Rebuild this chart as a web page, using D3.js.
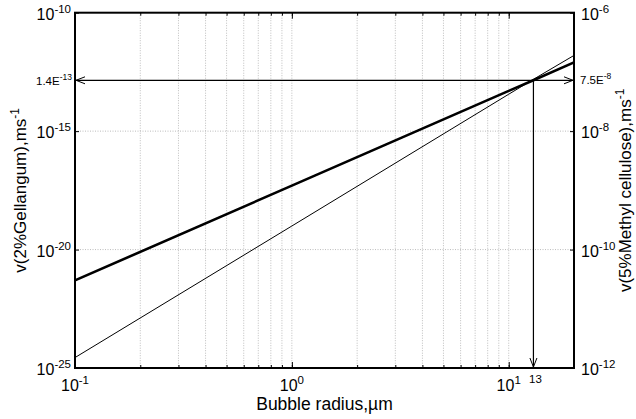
<!DOCTYPE html>
<html><head><meta charset="utf-8">
<script src="https://cdn.jsdelivr.net/npm/d3@7"></script>
<style>
html,body{margin:0;padding:0;background:#fff;}
svg{display:block;font-family:"Liberation Sans",Arial,sans-serif;}
</style></head>
<body><svg id="c" width="636" height="419"></svg>
<script>
// ---- data ----
const radius = [0.1, 1, 10, 13, 20];                       // bubble radius, µm
const gellan = [5e-22, 5e-18, 5e-14, 1.4e-13, 8e-13];      // v(2% Gellan gum), left axis
const methyl = [1.5e-12, 2.5e-10, 4.2e-8, 7.5e-8, 1.9e-7]; // v(5% Methyl cellulose), right axis
const xTicks = [0.1, 1, 10];
const xTickExp = ["-1", "0", "1"];
const yLeftTicks = [1e-10, 1e-15, 1e-20, 1e-25];
const yLeftExp = ["-10", "-15", "-20", "-25"];
const yRightTicks = [1e-6, 1e-8, 1e-10, 1e-12];
const yRightExp = ["-6", "-8", "-10", "-12"];
const markR = 13, markG = 1.4e-13, markM = 7.5e-8;
const markGLabel = ["1.4E", "-13"], markMLabel = ["7.5E", "-8"];

const svg = d3.select("#c");
const L = 75, R = 574, T = 12.7, B = 368;
const x = d3.scaleLog().domain([0.1, 20]).range([L, R]);
const yL = d3.scaleLog().domain([1e-25, 1e-10]).range([B, T]);
const yR = d3.scaleLog().domain([1e-12, 1e-6]).range([B, T]);

// grid
const gridX = x.ticks().filter(v => v > 0.1 * 1.001 && v < 20 * 0.999);
svg.append("g").selectAll("line").data(gridX).join("line")
  .attr("x1", d => x(d)).attr("x2", d => x(d)).attr("y1", T).attr("y2", B)
  .attr("stroke", "#bdbdbd").attr("stroke-width", 1).attr("stroke-dasharray", "1,1.5");
svg.append("g").selectAll("line").data(yLeftTicks.slice(1, -1)).join("line")
  .attr("x1", L).attr("x2", R).attr("y1", d => yL(d)).attr("y2", d => yL(d))
  .attr("stroke", "#bdbdbd").attr("stroke-width", 1).attr("stroke-dasharray", "1,1.5");

// axes (ticks inside)
const minorX = x.ticks();
svg.append("g").attr("transform", `translate(0,${B})`)
  .call(d3.axisBottom(x).tickValues(minorX).tickSize(-3).tickFormat(""))
  .call(g => g.select(".domain").remove());
svg.append("g").attr("transform", `translate(0,${B})`)
  .call(d3.axisBottom(x).tickValues(xTicks).tickSize(-6).tickFormat(""))
  .call(g => g.select(".domain").remove());
svg.append("g").attr("transform", `translate(0,${T})`)
  .call(d3.axisTop(x).tickValues(minorX).tickSize(-3).tickFormat(""))
  .call(g => g.select(".domain").remove());
svg.append("g").attr("transform", `translate(0,${T})`)
  .call(d3.axisTop(x).tickValues(xTicks).tickSize(-6).tickFormat(""))
  .call(g => g.select(".domain").remove());
svg.append("g").attr("transform", `translate(${L},0)`)
  .call(d3.axisLeft(yL).tickValues(yLeftTicks).tickSize(-4).tickFormat(""))
  .call(g => g.select(".domain").remove());
svg.append("g").attr("transform", `translate(${R},0)`)
  .call(d3.axisRight(yR).tickValues(yRightTicks).tickSize(-4).tickFormat(""))
  .call(g => g.select(".domain").remove());

svg.append("rect").attr("x", L).attr("y", T).attr("width", R - L).attr("height", B - T)
  .attr("fill", "none").attr("stroke", "#000").attr("stroke-width", 2);

// tick labels
function pow(sel, exp, big, small, up) {
  sel.append("tspan").text("10").attr("font-size", big);
  sel.append("tspan").text(exp).attr("font-size", small).attr("dy", -up);
}
svg.append("g").selectAll("text").data(xTicks).join("text")
  .attr("x", d => x(d)).attr("y", 391).attr("text-anchor", "middle")
  .each(function (d, i) { pow(d3.select(this), xTickExp[i], 16, 11.5, 7); });
svg.append("g").selectAll("text").data(yLeftTicks).join("text")
  .attr("x", 71).attr("y", d => yL(d) + 7).attr("text-anchor", "end")
  .each(function (d, i) { pow(d3.select(this), yLeftExp[i], 16, 11.5, 7); });
svg.append("g").selectAll("text").data(yRightTicks).join("text")
  .attr("x", 581).attr("y", d => yR(d) + 7).attr("text-anchor", "start")
  .each(function (d, i) { pow(d3.select(this), yRightExp[i], 16, 11.5, 7); });

// axis titles
svg.append("text").attr("x", (L + R) / 2).attr("y", 410).attr("text-anchor", "middle")
  .attr("font-size", 17.5).text("Bubble radius,\u00b5m");
const tl = svg.append("text").attr("transform", `translate(26,${(T + B) / 2}) rotate(-90)`)
  .attr("text-anchor", "middle").attr("font-size", 17);
tl.append("tspan").text("v(2%Gellangum),ms");
tl.append("tspan").text("-1").attr("font-size", 12).attr("dy", -7);
const tr = svg.append("text").attr("transform", `translate(631,${(T + B) / 2}) rotate(-90)`)
  .attr("text-anchor", "middle").attr("font-size", 17);
tr.append("tspan").text("v(5%Methyl cellulose),ms");
tr.append("tspan").text("-1").attr("font-size", 12).attr("dy", -7);

// data lines
const clip = svg.append("clipPath").attr("id", "pc").append("rect")
  .attr("x", L).attr("y", T).attr("width", R - L).attr("height", B - T);
svg.append("path").datum(radius.map((r, i) => [r, gellan[i]]))
  .attr("clip-path", "url(#pc)")
  .attr("d", d3.line().x(d => x(d[0])).y(d => yL(d[1])))
  .attr("fill", "none").attr("stroke", "#000").attr("stroke-width", 2.6);
svg.append("path").datum(radius.map((r, i) => [r, methyl[i]]))
  .attr("clip-path", "url(#pc)")
  .attr("d", d3.line().x(d => x(d[0])).y(d => yR(d[1])))
  .attr("fill", "none").attr("stroke", "#000").attr("stroke-width", 1);

// annotation arrows
const defs = svg.append("defs");
defs.append("marker").attr("id", "ah").attr("viewBox", "-10 -5 12 10")
  .attr("markerWidth", 12).attr("markerHeight", 10).attr("refX", 0).attr("refY", 0)
  .attr("markerUnits", "userSpaceOnUse").attr("orient", "auto-start-reverse")
  .append("path").attr("d", "M-9,-3.5 L0,0 L-9,3.5").attr("fill", "none")
  .attr("stroke", "#000").attr("stroke-width", 1);
const ym = yL(markG);
svg.append("line").attr("x1", L + 1).attr("x2", R - 1).attr("y1", ym).attr("y2", ym)
  .attr("stroke", "#000").attr("stroke-width", 1.2)
  .attr("marker-start", "url(#ah)").attr("marker-end", "url(#ah)");
svg.append("line").attr("x1", x(markR)).attr("x2", x(markR)).attr("y1", yR(markM)).attr("y2", B - 1)
  .attr("stroke", "#000").attr("stroke-width", 1.2).attr("marker-end", "url(#ah)");

// annotation labels
const gl = svg.append("text").attr("x", 72).attr("y", ym + 5).attr("text-anchor", "end").attr("font-size", 11.5);
gl.append("tspan").text(markGLabel[0]);
gl.append("tspan").text(markGLabel[1]).attr("font-size", 8.5).attr("dy", -5);
const ml = svg.append("text").attr("x", 580).attr("y", yR(markM) + 5).attr("text-anchor", "start").attr("font-size", 11.5);
ml.append("tspan").text(markMLabel[0]);
ml.append("tspan").text(markMLabel[1]).attr("font-size", 8.5).attr("dy", -5);
svg.append("text").attr("x", x(markR) + 2).attr("y", 383).attr("text-anchor", "middle")
  .attr("font-size", 11.5).text(String(markR));
</script></body></html>
